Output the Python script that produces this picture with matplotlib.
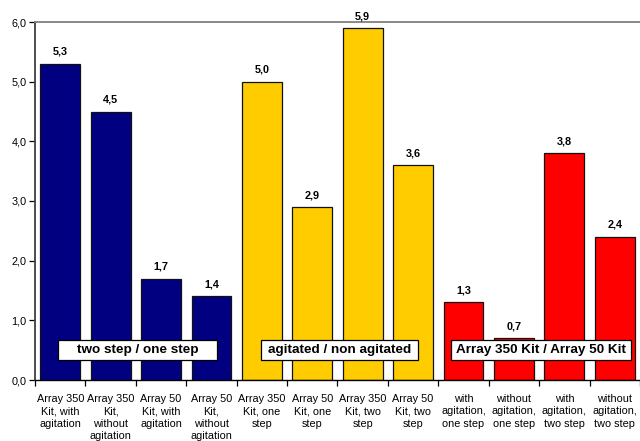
import matplotlib
matplotlib.use("Agg")
import matplotlib.pyplot as plt
from matplotlib.patches import Rectangle
from matplotlib.ticker import FixedLocator, FuncFormatter

plt.rcParams['font.family'] = ['Liberation Sans', 'DejaVu Sans']

categories = [
    "Array 350\nKit, with\nagitation",
    "Array 350\nKit,\nwithout\nagitation",
    "Array 50\nKit, with\nagitation",
    "Array 50\nKit,\nwithout\nagitation",
    "Array 350\nKit, one\nstep",
    "Array 50\nKit, one\nstep",
    "Array 350\nKit, two\nstep",
    "Array 50\nKit, two\nstep",
    "with\nagitation,\none step",
    "without\nagitation,\none step",
    "with\nagitation,\ntwo step",
    "without\nagitation,\ntwo step",
]
values = [5.3, 4.5, 1.7, 1.4, 5.0, 2.9, 5.9, 3.6, 1.3, 0.7, 3.8, 2.4]
group_titles = ["two step / one step", "agitated / non agitated",
                "Array 350 Kit / Array 50 Kit"]
group_sizes = [4, 4, 4]
group_colors = ["#000080", "#FFCC00", "#FF0000"]

fig = plt.figure(figsize=(6.4, 4.41), dpi=100)
ax = fig.add_axes([35 / 640, 1 - 380 / 441, 605 / 640, 358 / 441])

colors = []
for c, n in zip(group_colors, group_sizes):
    colors += [c] * n

x = list(range(len(values)))
bars = ax.bar(x, values, width=0.79, color=colors, edgecolor="#111111",
              linewidth=0.9, zorder=2)

for b, v in zip(bars, values):
    ax.annotate(f"{v:.1f}".replace(".", ","),
                (b.get_x() + b.get_width() / 2, b.get_height()),
                xytext=(0, 5), textcoords="offset points",
                ha="center", va="bottom", fontsize=7.8, fontweight="bold")

# group caption boxes
box_widths = [3.15, 3.13, 3.57]
start = 0
for title, n, w in zip(group_titles, group_sizes, box_widths):
    cx = start + (n - 1) / 2 + 0.04
    ax.add_patch(Rectangle((cx - w / 2, 0.335), w, 0.335, facecolor="white",
                           edgecolor="black", linewidth=0.9, zorder=3))
    ax.text(cx, 0.5, title, ha="center", va="center", fontsize=9.7,
            fontweight="bold", zorder=4)
    start += n

ax.set_xlim(-0.5, len(values) - 0.5)
ax.set_ylim(0, 6)
ax.set_xticks(x)
ax.set_xticklabels(categories, fontsize=7.8, linespacing=1.3)
ax.tick_params(axis="x", which="major", length=0, pad=10)
ax.xaxis.set_minor_locator(FixedLocator([i - 0.5 for i in range(len(values) + 1)]))
ax.tick_params(axis="x", which="minor", length=4, width=0.9)
ax.set_yticks([0, 1, 2, 3, 4, 5, 6])
ax.yaxis.set_major_formatter(FuncFormatter(lambda v, p: f"{v:.1f}".replace(".", ",")))
ax.tick_params(axis="y", labelsize=7.8, length=4, width=0.9, pad=2)

ax.spines["right"].set_visible(False)
ax.spines["top"].set_color("#808080")
ax.spines["top"].set_linewidth(1.3)
ax.spines["left"].set_color("#404040")
ax.spines["left"].set_linewidth(1.3)
ax.spines["bottom"].set_linewidth(1.0)

fig.savefig("out.png", dpi=100)
